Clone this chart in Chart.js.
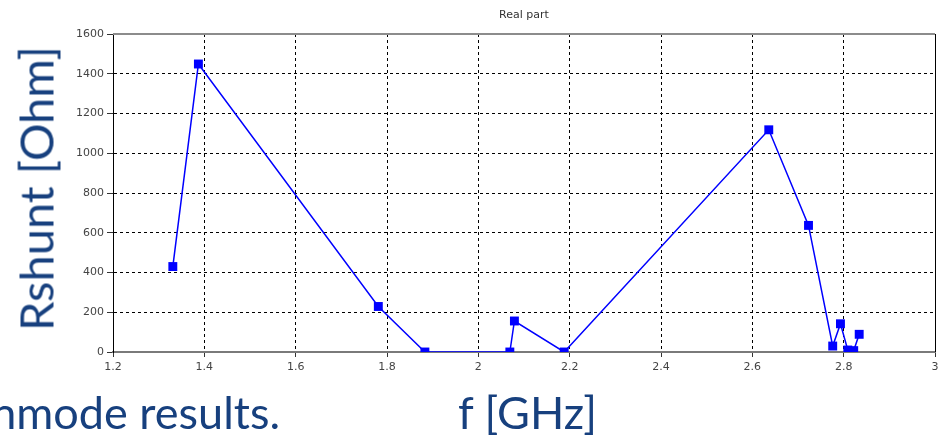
<!DOCTYPE html>
<html>
<head>
<meta charset="utf-8">
<script src="https://cdn.jsdelivr.net/npm/chart.js@4"></script>
<style>
  html, body { margin: 0; padding: 0; background: #fff; overflow: hidden; }
  #wrap { position: relative; width: 945px; height: 437px; overflow: hidden; }
  canvas { position: absolute; left: 0; top: 0; }
  .slide { position: absolute; font-family: Lato, "Open Sans", sans-serif; color: #17407e; font-size: 45px; line-height: 1; white-space: nowrap; }
</style>
</head>
<body>
<div id="wrap">
  <canvas id="chart" width="945" height="437"></canvas>
  <div class="slide" id="ytitle" style="left:-164px; top:165px; width:400px; font-size:47px; text-align:center; transform:rotate(-90deg);">Rshunt [Ohm]</div>
  <div class="slide" style="left:458px; top:390px;">f [GHz]</div>
  <div class="slide" style="right:665px; top:390px; text-align:right;">nmode results.</div>
</div>
<script>
// Rshunt vs frequency
const freqGHz = [1.331, 1.387, 1.781, 1.883, 2.069, 2.079, 2.188, 2.636, 2.723, 2.776, 2.793, 2.809, 2.822, 2.834];
const rshunt  = [430, 1449, 229, 0, 0, 156, 0, 1118, 637, 30, 142, 10, 7, 89];

const xTicks = [1.2, 1.4, 1.6, 1.8, 2, 2.2, 2.4, 2.6, 2.8, 3];
const yTicks = [0, 200, 400, 600, 800, 1000, 1200, 1400, 1600];
const chartTitle = 'Real part';

const tickFont = { family: '"DejaVu Sans", sans-serif', size: 11 };

// frame (top gray, right black) and the small title above the plot
const framePlugin = {
    id: 'frame',
    afterDraw(chart) {
        const { ctx, chartArea: a } = chart;
        ctx.save();
        ctx.strokeStyle = '#8c8c8c';
        ctx.lineWidth = 2;
        ctx.beginPath();
        ctx.moveTo(a.left, a.top);
        ctx.lineTo(a.right, a.top);
        ctx.stroke();
        ctx.strokeStyle = '#000';
        ctx.lineWidth = 1;
        ctx.beginPath();
        ctx.moveTo(a.right + 0.5, a.top);
        ctx.lineTo(a.right + 0.5, a.bottom);
        ctx.stroke();
        ctx.fillStyle = '#333';
        ctx.font = '11px "DejaVu Sans", sans-serif';
        ctx.textAlign = 'center';
        ctx.textBaseline = 'middle';
        ctx.fillText(chartTitle, (a.left + a.right) / 2, 15);
        ctx.restore();
    }
};

new Chart(document.getElementById('chart'), {
    type: 'line',
    data: {
        datasets: [{
            label: 'Rshunt',
            data: freqGHz.map((f, i) => ({ x: f, y: rshunt[i] })),
            borderColor: '#0000ff',
            backgroundColor: '#0000ff',
            borderWidth: 1.5,
            pointStyle: 'rect',
            pointRadius: 6.3,
            pointHoverRadius: 6.3,
            pointBorderWidth: 0,
            tension: 0
        }]
    },
    options: {
        responsive: false,
        animation: false,
        layout: { padding: { top: 34, right: 10, left: 0, bottom: 0 } },
        plugins: {
            legend: { display: false },
            tooltip: { enabled: false }
        },
        scales: {
            x: {
                type: 'linear',
                min: 1.2,
                max: 3,
                afterBuildTicks: (scale) => { scale.ticks = xTicks.map(v => ({ value: v })); },
                afterFit: (scale) => { scale.height = 85; },
                ticks: {
                    font: tickFont,
                    color: '#444',
                    padding: 4,
                    maxRotation: 0,
                    callback: (v) => String(v)
                },
                grid: {
                    color: '#000',
                    lineWidth: 1,
                    tickLength: 5,
                    tickColor: '#333',
                    tickBorderDash: []
                },
                border: { color: '#7a7a7a', width: 2, dash: [3, 3] }
            },
            y: {
                min: 0,
                max: 1600,
                afterBuildTicks: (scale) => { scale.ticks = yTicks.map(v => ({ value: v })); },
                afterFit: (scale) => { scale.width = 113; },
                ticks: {
                    font: tickFont,
                    color: '#444',
                    padding: 3,
                    callback: (v) => String(v)
                },
                grid: {
                    color: '#000',
                    lineWidth: 1,
                    tickLength: 6,
                    tickColor: '#333',
                    tickBorderDash: []
                },
                border: { color: '#000', width: 1, dash: [3, 3] }
            }
        }
    },
    plugins: [framePlugin]
});
</script>
</body>
</html>
